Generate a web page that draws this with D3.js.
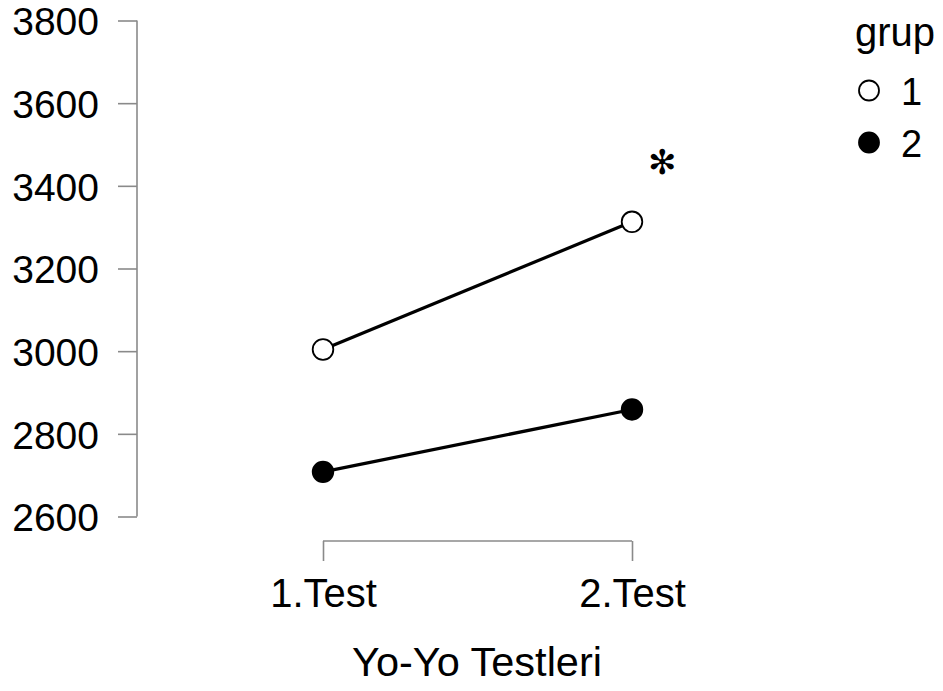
<!DOCTYPE html>
<html>
<head>
<meta charset="utf-8">
<script src="https://cdn.jsdelivr.net/npm/d3@7"></script>
<style>
  html, body { margin: 0; padding: 0; background: #ffffff; }
  svg { display: block; }
  text { font-family: "Liberation Sans", Arial, Helvetica, sans-serif; fill: #000; }
</style>
</head>
<body>
<svg id="chart" width="943" height="691"></svg>
<script>
// Yo-Yo test means per group
const tests = ["1.Test", "2.Test"];
const groups = ["1", "2"];
const group1Values = [3004, 3313];
const group2Values = [2708, 2859];
const yTicks = [2600, 2800, 3000, 3200, 3400, 3600, 3800];
const xTitle = "Yo-Yo Testleri";
const legendTitle = "grup";
const significanceMark = "\u273B";

const series = [
  { group: groups[0], values: group1Values, fill: "#ffffff" },
  { group: groups[1], values: group2Values, fill: "#000000" }
];

const svg = d3.select("#chart");

const y = d3.scaleLinear().domain([2600, 3800]).range([516.5, 20.5]);
const x = d3.scalePoint().domain(tests).range([323, 632]);

const axisColor = "#8a8a8a";
const font = "Liberation Sans, Arial, sans-serif";

// Y axis (range frame)
const yAxis = svg.append("g").attr("transform", "translate(137,0)")
  .call(d3.axisLeft(y).tickValues(yTicks).tickSize(19).tickPadding(19).tickFormat(d3.format("d")));
yAxis.select(".domain").attr("d", `M0,${y(2600)}V${y(3800)}`).attr("stroke", axisColor).attr("stroke-width", 1.6);
yAxis.selectAll(".tick line").attr("stroke", axisColor).attr("stroke-width", 1.6);
yAxis.selectAll(".tick text")
  .attr("font-size", 39).attr("font-family", font).attr("fill", "#000")
  .attr("dy", "0.37em");

// X axis (range frame, ticks hanging below)
const xAxis = svg.append("g").attr("transform", "translate(0,541)")
  .call(d3.axisBottom(x).tickSize(20).tickPadding(18));
xAxis.select(".domain").attr("d", `M${x(tests[0])},0H${x(tests[1])}`).attr("stroke", axisColor).attr("stroke-width", 1.6);
xAxis.selectAll(".tick line").attr("y1", 0).attr("y2", 20).attr("stroke", axisColor).attr("stroke-width", 1.6);
xAxis.selectAll(".tick text").attr("font-size", 40).attr("font-family", font).attr("fill", "#000");

svg.append("text")
  .attr("x", 477).attr("y", 676)
  .attr("text-anchor", "middle")
  .attr("font-size", 41.5)
  .text(xTitle);

// Lines and points
const line = d3.line().x((d, i) => x(tests[i])).y(d => y(d));
series.forEach(s => {
  svg.append("path")
    .attr("d", line(s.values))
    .attr("fill", "none")
    .attr("stroke", "#000")
    .attr("stroke-width", 3.2);
  svg.selectAll(null).data(s.values).enter().append("circle")
    .attr("cx", (d, i) => x(tests[i]))
    .attr("cy", d => y(d))
    .attr("r", 10.3)
    .attr("fill", s.fill)
    .attr("stroke", "#000")
    .attr("stroke-width", 1.8);
});

// Significance marker above group 1 at 2.Test
svg.append("text")
  .attr("x", 662).attr("y", 162)
  .attr("text-anchor", "middle")
  .attr("dominant-baseline", "central")
  .attr("font-family", "DejaVu Sans, sans-serif")
  .attr("font-size", 34)
  .text(significanceMark);

// Legend
const legend = svg.append("g");
legend.append("text").attr("x", 855).attr("y", 46).attr("font-size", 40).text(legendTitle);
const legendCy = [90.5, 142.5];
series.forEach((s, i) => {
  const cy = legendCy[i];
  legend.append("circle")
    .attr("cx", 869).attr("cy", cy).attr("r", 10)
    .attr("fill", s.fill).attr("stroke", "#000").attr("stroke-width", 1.8);
  legend.append("text")
    .attr("x", 901).attr("y", cy + 14)
    .attr("font-size", 38)
    .text(s.group);
});
</script>
</body>
</html>
